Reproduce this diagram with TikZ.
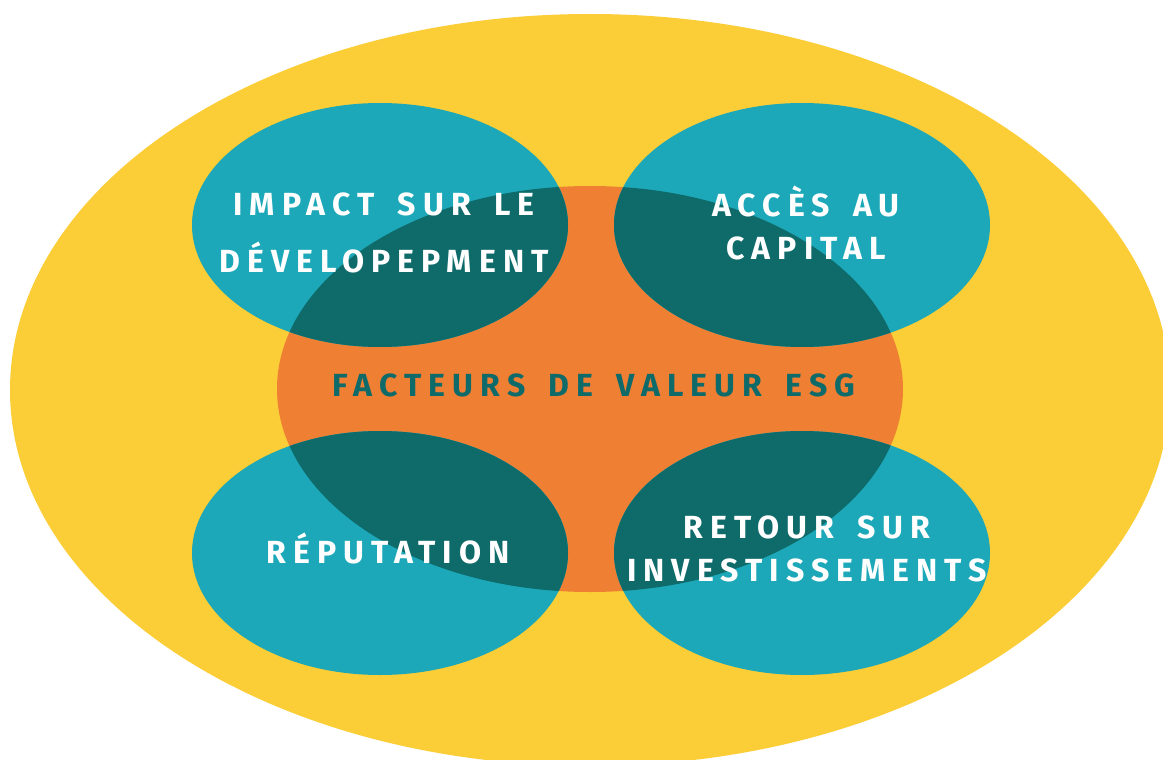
\documentclass[tikz,border=0pt]{standalone}
\usepackage{fontspec}
\usetikzlibrary{positioning}
\newfontfamily\dinfont[LetterSpace=22,WordSpace=1.6]{Fira Sans}
\definecolor{sunback}{HTML}{FBCD37}
\definecolor{esgcore}{HTML}{EE7F33}
\definecolor{pillar}{HTML}{1CA8B8}
\definecolor{overlap}{HTML}{0F6A6A}
\tikzset{
  pillarlabel/.style={anchor=base, text=white, align=center, inner sep=0pt,
    font=\dinfont\bfseries\fontsize{32}{43}\selectfont},
  corelabel/.style={pillarlabel, text=overlap},
}

\begin{document}
\begin{tikzpicture}[x=1pt,y=-1pt]
\useasboundingbox (0,0) rectangle (1163,760);
\clip (0,0) rectangle (1163,760);
% background and core
\fill[sunback] (590,390) ellipse [x radius=580pt, y radius=376pt];
\fill[esgcore] (590,389) ellipse [x radius=313pt, y radius=203pt];
% the four pillars
\foreach \cx/\cy in {380/225,802/225,380/553,802/553}{
  \fill[pillar] (\cx,\cy) ellipse [x radius=188pt, y radius=122pt];
}
\begin{scope}
  \clip (590,389) ellipse [x radius=313pt, y radius=203pt];
  \foreach \cx/\cy in {380/225,802/225,380/553,802/553}{
    \fill[overlap] (\cx,\cy) ellipse [x radius=188pt, y radius=122pt];
  }
\end{scope}
% labels (base = last line)
\node[corelabel] (core) at (594,396) {FACTEURS DE VALEUR ESG};
\node[pillarlabel] (impact) at (384,272) {IMPACT SUR LE\\[14pt]DÉVELOPEPMENT};
\node[pillarlabel] (capital) at (806,259) {ACCÈS AU\\CAPITAL};
\node[pillarlabel] (reputation) at (388,563) {RÉPUTATION};
\node[pillarlabel] (retour) at (807,581) {RETOUR SUR\\INVESTISSEMENTS};
\end{tikzpicture}
\end{document}
